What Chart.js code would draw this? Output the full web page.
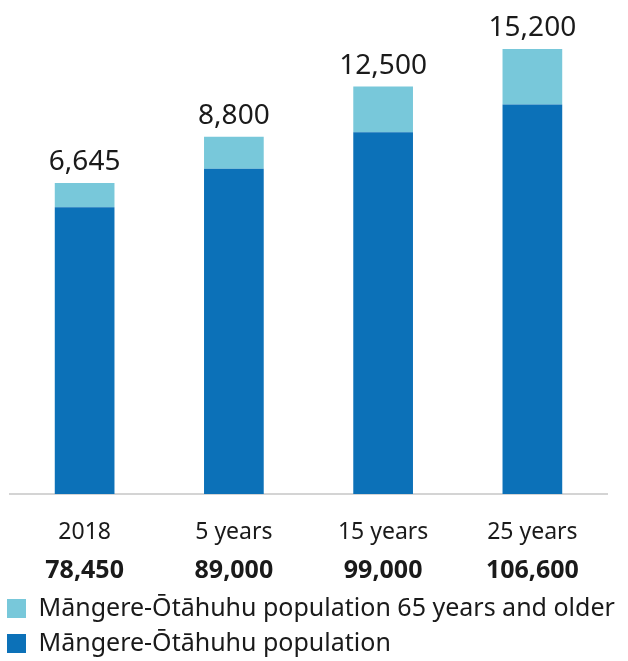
<!DOCTYPE html>
<html>
<head>
<meta charset="utf-8">
<script src="https://cdn.jsdelivr.net/npm/chart.js@4"></script>
<style>
  body { margin: 0; background: #fff; }
  #wrap { position: relative; width: 628px; height: 661px; }
</style>
</head>
<body>
<div id="wrap"><canvas id="popChart"></canvas></div>
<script>
// data
const categories = ["2018", "5 years", "15 years", "25 years"]
const population = [78450, 89000, 99000, 106600]
const olderPopulation = [6645, 8800, 12500, 15200]
const seriesNames = [
  "Māngere-Ōtāhuhu population",
  "Māngere-Ōtāhuhu population 65 years and older",
]

const fmt = (v) => v.toLocaleString("en-US")
const FONT = "'Noto Sans', 'Open Sans', sans-serif"

// numbers above each stack (the 65+ values)
const topLabels = {
  id: "topLabels",
  afterDatasetsDraw(chart) {
    const ctx = chart.ctx
    const meta = chart.getDatasetMeta(1)
    ctx.save()
    ctx.font = "28px " + FONT
    ctx.fillStyle = "#1a1a1a"
    ctx.textAlign = "center"
    ctx.textBaseline = "bottom"
    meta.data.forEach((bar, i) => {
      ctx.fillText(fmt(olderPopulation[i]), bar.x, bar.y - 7)
    })
    ctx.restore()
  },
}

// empty side axes just to keep some room left/right of the bars
const spacer = (w, pos) => ({
  position: pos,
  display: true,
  grid: { display: false },
  border: { display: false },
  ticks: { display: false },
  afterFit: (scale) => { scale.width = w },
})

new Chart(document.getElementById("popChart"), {
  type: "bar",
  data: {
    labels: categories,
    datasets: [
      {
        label: seriesNames[0],
        data: population,
        backgroundColor: "#0C71B8",
        xAxisID: "x",
      },
      {
        label: seriesNames[1],
        data: olderPopulation,
        backgroundColor: "#78C8DA",
        xAxisID: "x",
      },
    ],
  },
  options: {
    responsive: true,
    maintainAspectRatio: false,
    animation: false,
    barPercentage: 0.4,
    categoryPercentage: 1,
    layout: { padding: { top: 19, left: -3, right: 0, bottom: -5 } },
    scales: {
      x: {
        stacked: true,
        grid: { display: false },
        border: { display: true, color: "#d4d4d4", width: 2 },
        ticks: { color: "#1a1a1a", font: { family: FONT, size: 23 }, padding: 17 },
        afterFit: (scale) => { scale.height = 54 },
      },
      x2: {
        type: "category",
        labels: population.map(fmt),
        position: "bottom",
        grid: { display: false },
        border: { display: false },
        ticks: { color: "#1a1a1a", font: { family: FONT, size: 25, weight: "bold" }, padding: 0 },
        afterFit: (scale) => { scale.height = 38 },
      },
      y: {
        stacked: true,
        min: 0,
        max: 130000,
        ...spacer(13, "left"),
      },
      yR: spacer(21, "right"),
    },
    plugins: {
      legend: {
        position: "bottom",
        align: "start",
        reverse: true,
        labels: {
          boxWidth: 19,
          boxHeight: 19,
          padding: 10,
          color: "#1a1a1a",
          font: { family: FONT, size: 25 },
        },
      },
      tooltip: { enabled: false },
    },
  },
  plugins: [topLabels],
})
</script>
</body>
</html>
